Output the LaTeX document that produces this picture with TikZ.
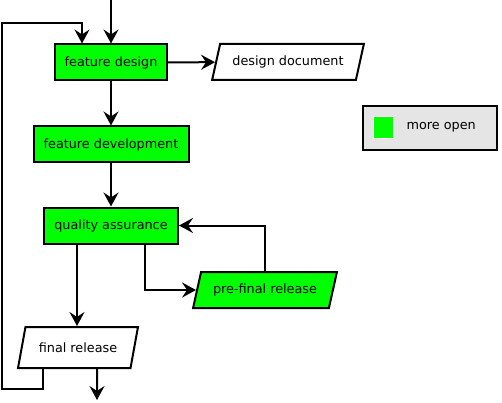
\documentclass[tikz,border=0pt]{standalone}
\usepackage{fontspec}
\setmainfont{DejaVu Sans}
\usetikzlibrary{arrows.meta, positioning, shapes.geometric}

\definecolor{opengreen}{RGB}{0,255,0}
\definecolor{legendgray}{RGB}{229,229,229}

\begin{document}
\begin{tikzpicture}[
            x = 1pt, y = -1pt, % pixel-like units, y down
            > = {Stealth[length=14pt, width=15pt, inset=5pt]}, % arrow head style
            line width = 2pt, % line style
            node distance = 44pt, % distance between nodes
            font = \fontsize{12.8}{15}\selectfont
        ]

        \tikzstyle{task}=[
            rectangle,
            draw = black,
            line width = 2pt,
            minimum height = 36pt
        ]
        \tikzstyle{result}=[
            trapezium,
            trapezium left angle = 70,
            trapezium right angle = 110,
            trapezium stretches = true,
            draw = black,
            line width = 2pt,
            fill = white,
            minimum height = 36pt
        ]
        \tikzstyle{open}=[fill = opengreen]

        \useasboundingbox (0,0) rectangle (502,403);

        % main line of work
        \node[task, open, minimum width = 112pt] (design) at (111,62.5) {feature design};
        \node[task, open, minimum width = 155pt] (develop) [below=of design] {feature development};
        \node[task, open, minimum width = 134pt] (qa) [below=43pt of develop] {quality assurance};

        % what comes out of it
        \node[result, minimum width = 152pt] (doc) at (288,62) {design document};
        \node[result, open, minimum width = 144pt] (prefinal) at (265,290) {pre-final release};
        \node[result, minimum width = 120pt, minimum height = 41pt] (final) at (78,347.5) {final release};

        % legend
        \node[rectangle, draw = black, fill = legendgray, minimum width = 134pt,
              minimum height = 44pt] (legend) at (430,128) {};
        \node[rectangle, draw = white, line width = 1.5pt, fill = opengreen,
              minimum width = 20pt, minimum height = 22pt] (legendkey) at (383.5,127.5) {};
        \node (legendtext) [right=8pt of legendkey] {more open};

        \coordinate (start) at (111,0);
        \coordinate (stop) at (97,400);

        \path[->] (start) edge (design);
        \path[->] (design) edge (doc);
        \path[->] (design) edge (develop);
        \path[->] (develop) edge (qa);
        \draw[->] ([xshift=-34pt]qa.south) -- ([xshift=-34pt]qa.south |- final.north);
        \draw[->] ([xshift=34pt]qa.south) |- (prefinal.west);
        \draw[->] (prefinal.north) |- (qa.east);
        \draw[->] ([xshift=19pt]final.south) -- (stop);
        \draw[->] ([xshift=-35pt]final.south) |- (2,389) |- (82,23)
            -- ([xshift=-29pt]design.north);

  \end{tikzpicture}
\end{document}
